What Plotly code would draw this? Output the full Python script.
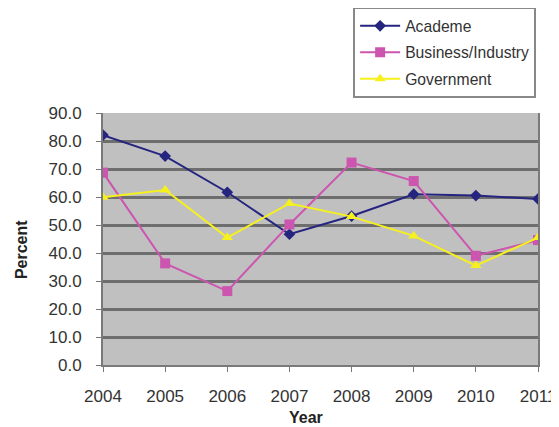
import plotly.graph_objects as go

years = [2004, 2005, 2006, 2007, 2008, 2009, 2010, 2011]
academe = [82.1, 74.6, 61.7, 46.7, 53.2, 61.0, 60.5, 59.3]
business = [68.7, 36.3, 26.4, 50.2, 72.3, 65.7, 39.0, 44.6]
government = [59.9, 62.5, 45.5, 57.7, 53.0, 46.1, 35.5, 45.5]
y_ticks = [0, 10, 20, 30, 40, 50, 60, 70, 80, 90]
x_title = "Year"
y_title = "Percent"

fig = go.Figure()
fig.add_trace(go.Scatter(x=years, y=academe, name="Academe", mode="lines+markers",
                         legendgroup="a",
                         line=dict(color="#252580", width=2),
                         marker=dict(symbol="diamond", size=9, color="#252580")))
fig.add_trace(go.Scatter(x=years, y=business, name="Business/Industry", mode="lines+markers",
                         legendgroup="b",
                         line=dict(color="#cc55b0", width=2),
                         marker=dict(symbol="square", size=10, color="#cc55b0")))
fig.add_trace(go.Scatter(x=years, y=government, name="Government", mode="lines+markers",
                         legendgroup="c",
                         line=dict(color="#f5f01e", width=2),
                         marker=dict(symbol="triangle-up", size=10, color="#f5f01e")))

fig.update_layout(
    width=559, height=427,
    margin=dict(l=95, r=29, t=105, b=70, autoexpand=False),
    paper_bgcolor="white",
    plot_bgcolor="#c0c0c0",
    font=dict(family="Liberation Sans, Arial, sans-serif", color="#333333", size=17),
    legend=dict(x=0.575, y=1.42, xanchor="left", yanchor="top",
                bgcolor="white", bordercolor="#888888", borderwidth=2,
                font=dict(size=15.7, color="#333333"), tracegroupgap=3,
                itemwidth=40),
    xaxis=dict(range=[2004, 2011], tickvals=years, ticktext=[str(y) for y in years],
               showgrid=False, zeroline=False, ticks="outside", ticklen=5,
               tickcolor="#777777", tickfont=dict(size=17), ticklabelstandoff=10,
               showline=True, linecolor="#7a7a7a", linewidth=2),
    yaxis=dict(range=[0, 90], tickvals=y_ticks, ticktext=[f"{v:.1f}" for v in y_ticks],
               showgrid=True, gridcolor="#6e6e6e", gridwidth=2.5, zeroline=False,
               ticks="outside", ticklen=5, tickcolor="#777777", tickfont=dict(size=17),
               ticklabelstandoff=11,
               showline=True, linecolor="#7a7a7a", linewidth=2, mirror=True),
    annotations=[
        dict(text=f"<b>{x_title}</b>", xref="paper", yref="paper", x=0.467, y=-0.21,
             xanchor="center", yanchor="middle", showarrow=False,
             font=dict(size=16, color="#222222")),
        dict(text=f"<b>{y_title}</b>", xref="paper", yref="paper", x=-0.1885, y=0.456,
             xanchor="center", yanchor="middle", showarrow=False, textangle=-90,
             font=dict(size=16, color="#222222")),
    ],
)

fig.write_html("out.html")
